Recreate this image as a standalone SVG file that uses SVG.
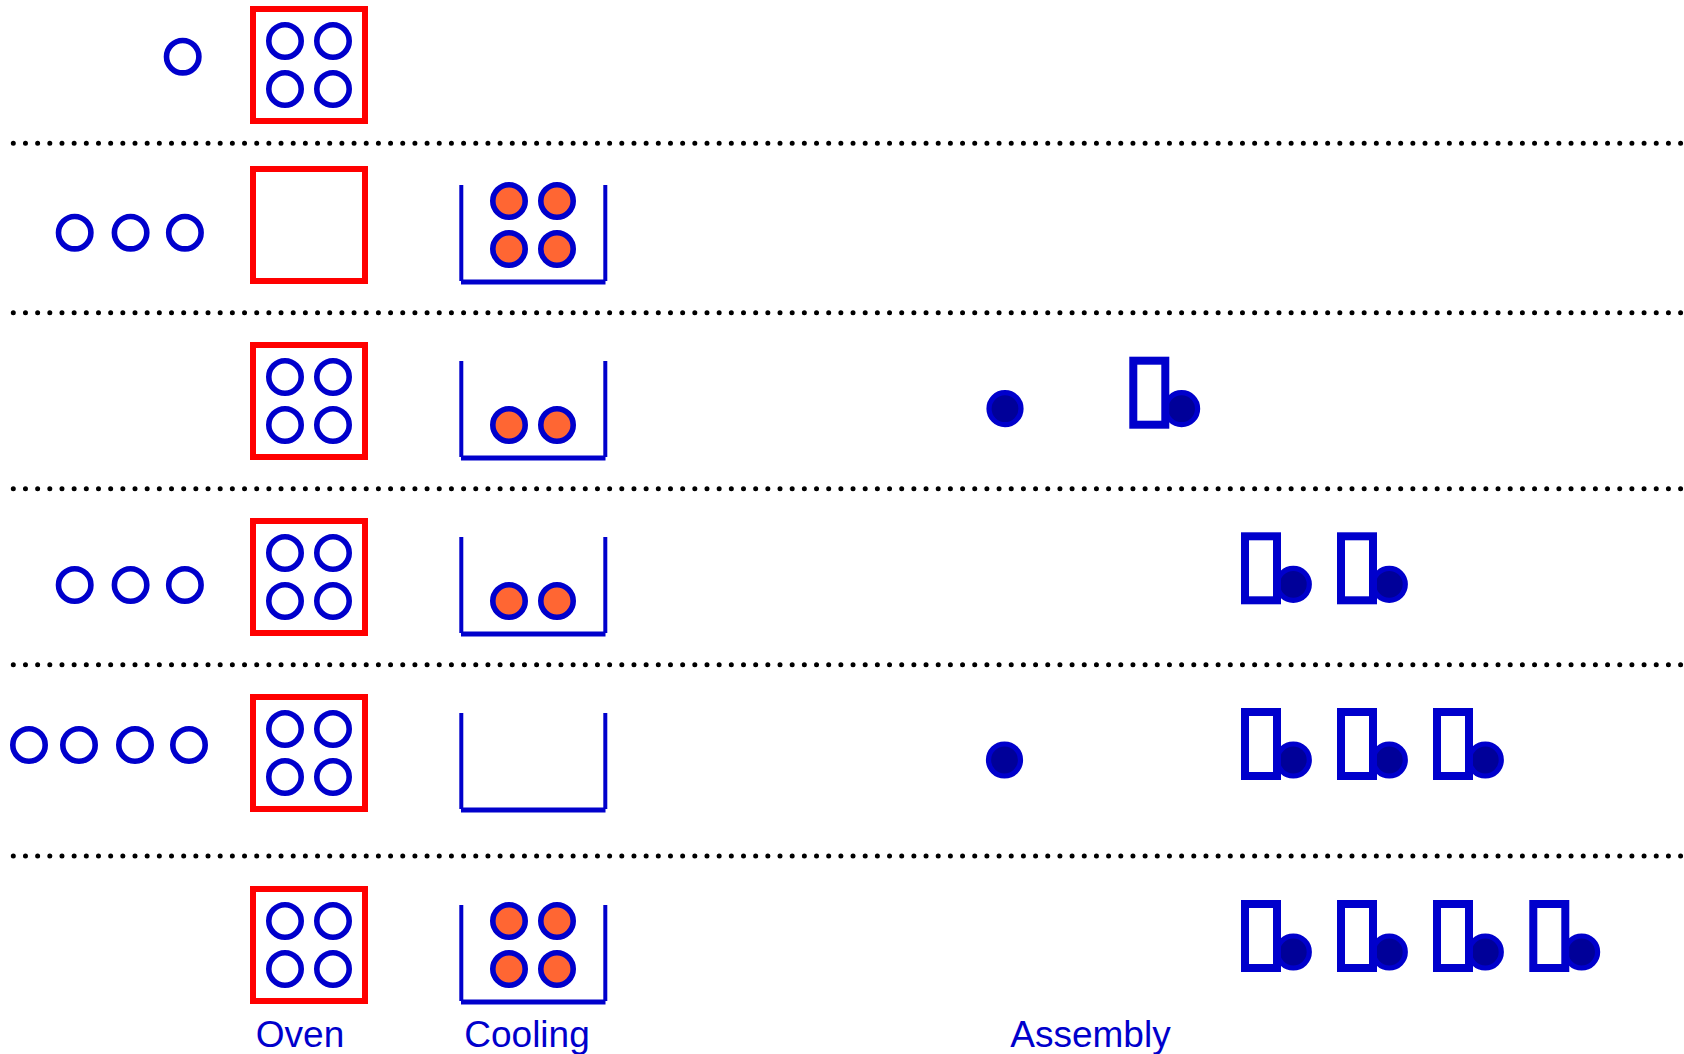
<svg xmlns="http://www.w3.org/2000/svg" xmlns:xlink="http://www.w3.org/1999/xlink" width="1684" height="1054" viewBox="0 0 1684 1054">
<style>
.sep{stroke:#000;stroke-width:5;stroke-linecap:round;stroke-dasharray:0 12.17;fill:none}
.oven{fill:none;stroke:#FF0000;stroke-width:6}
.ring{fill:none;stroke:#0000CC;stroke-width:5.6}
.hot{fill:#FF6633;stroke:#0000CC;stroke-width:5.6}
.dot{fill:#000099;stroke:#0000CC;stroke-width:5.2}
.cw{stroke:#0000CC;stroke-width:4;fill:none}
.cb{stroke:#0000CC;stroke-width:5;fill:none}
.part{fill:#fff;stroke:#0000CC;stroke-width:8}
.lbl{font-family:"Liberation Sans",Arial,sans-serif;font-size:37px;fill:#0000CC;text-anchor:middle}
</style>
<defs>
<g id="ovenEmpty"><rect class="oven" x="253" y="3" width="112" height="112"/></g>
<g id="ovenFull"><rect class="oven" x="253" y="3" width="112" height="112"/>
<circle class="ring" cx="285" cy="35" r="16.2"/><circle class="ring" cx="333" cy="35" r="16.2"/>
<circle class="ring" cx="285" cy="83" r="16.2"/><circle class="ring" cx="333" cy="83" r="16.2"/></g>
<g id="tray"><line class="cw" x1="461.3" y1="19" x2="461.3" y2="115"/><line class="cw" x1="605.3" y1="19" x2="605.3" y2="115"/><line class="cb" x1="461" y1="116" x2="605.5" y2="116"/></g>
<g id="hotTop"><circle class="hot" cx="509" cy="35" r="16.2"/><circle class="hot" cx="557" cy="35" r="16.2"/></g>
<g id="hotBot"><circle class="hot" cx="509" cy="83" r="16.2"/><circle class="hot" cx="557" cy="83" r="16.2"/></g>
<g id="item"><circle class="dot" cx="52.3" cy="0" r="16"/><rect class="part" x="4" y="-48" width="32" height="64"/></g>
</defs>

<g id="separators">
<line class="sep" x1="13.3" y1="143.3" x2="1684" y2="143.3"/>
<line class="sep" x1="13.3" y1="312.7" x2="1684" y2="312.7"/>
<line class="sep" x1="13.3" y1="488.7" x2="1684" y2="488.7"/>
<line class="sep" x1="13.3" y1="664.7" x2="1684" y2="664.7"/>
<line class="sep" x1="13.3" y1="856" x2="1684" y2="856"/>
</g>

<g id="row1">
<circle class="ring" cx="182.7" cy="56.7" r="16.2"/>
<use xlink:href="#ovenFull" transform="translate(0,6)"/>
</g>

<g id="row2">
<circle class="ring" cx="74.7" cy="232.7" r="16.2"/><circle class="ring" cx="130.6" cy="232.7" r="16.2"/><circle class="ring" cx="184.9" cy="232.7" r="16.2"/>
<use xlink:href="#ovenEmpty" transform="translate(0,166)"/>
<g transform="translate(0,166)"><use xlink:href="#tray"/><use xlink:href="#hotTop"/><use xlink:href="#hotBot"/></g>
</g>

<g id="row3">
<use xlink:href="#ovenFull" transform="translate(0,342)"/>
<g transform="translate(0,342)"><use xlink:href="#tray"/><use xlink:href="#hotBot"/></g>
<circle class="dot" cx="1005" cy="408.7" r="16"/>
<use xlink:href="#item" transform="translate(1129.3,408.7)"/>
</g>

<g id="row4">
<circle class="ring" cx="74.7" cy="585" r="16.2"/><circle class="ring" cx="130.6" cy="585" r="16.2"/><circle class="ring" cx="184.9" cy="585" r="16.2"/>
<use xlink:href="#ovenFull" transform="translate(0,518)"/>
<g transform="translate(0,518)"><use xlink:href="#tray"/><use xlink:href="#hotBot"/></g>
<use xlink:href="#item" transform="translate(1241,584.3)"/>
<use xlink:href="#item" transform="translate(1337,584.3)"/>
</g>

<g id="row5">
<circle class="ring" cx="29" cy="745" r="16.2"/><circle class="ring" cx="79" cy="745" r="16.2"/><circle class="ring" cx="135" cy="745" r="16.2"/><circle class="ring" cx="189" cy="745" r="16.2"/>
<use xlink:href="#ovenFull" transform="translate(0,694)"/>
<use xlink:href="#tray" transform="translate(0,694)"/>
<circle class="dot" cx="1004.5" cy="760" r="16"/>
<use xlink:href="#item" transform="translate(1241,760)"/>
<use xlink:href="#item" transform="translate(1337,760)"/>
<use xlink:href="#item" transform="translate(1433,760)"/>
</g>

<g id="row6">
<use xlink:href="#ovenFull" transform="translate(0,886)"/>
<g transform="translate(0,886)"><use xlink:href="#tray"/><use xlink:href="#hotTop"/><use xlink:href="#hotBot"/></g>
<use xlink:href="#item" transform="translate(1241,952)"/>
<use xlink:href="#item" transform="translate(1337,952)"/>
<use xlink:href="#item" transform="translate(1433,952)"/>
<use xlink:href="#item" transform="translate(1529.3,952)"/>
</g>

<g id="labels">
<text class="lbl" x="300" y="1046.7">Oven</text>
<text class="lbl" x="527" y="1046.7">Cooling</text>
<text class="lbl" x="1090.5" y="1046.7">Assembly</text>
</g>
</svg>
